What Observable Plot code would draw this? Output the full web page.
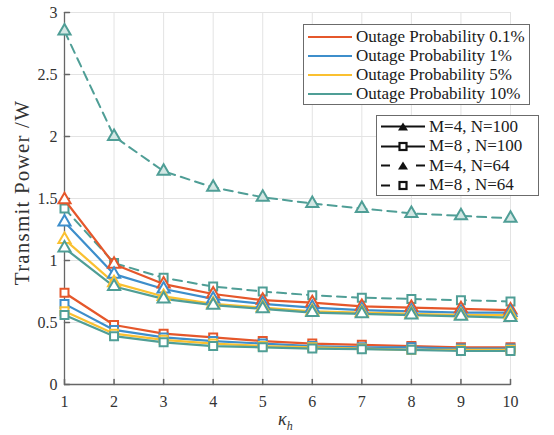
<!DOCTYPE html>
<html><head><meta charset="utf-8">
<script src="https://cdn.jsdelivr.net/npm/d3@7"></script>
<script src="https://cdn.jsdelivr.net/npm/@observablehq/plot@0.6"></script>
<style>
body{margin:0;background:#fff;}
#wrap{position:relative;width:554px;height:435px;font-family:"Liberation Serif","DejaVu Serif","Times New Roman",serif;overflow:hidden}
#wrap svg.plot{position:absolute;left:0;top:0}
.legend{position:absolute;background:#fff;border:1px solid #6b6b6b;box-sizing:border-box;}
.row{position:absolute;height:19px;display:flex;align-items:center;font-size:17px;color:#1a1a1a;white-space:nowrap;font-family:"Liberation Serif",serif}
.row svg{margin-right:3px}
#xlabel{position:absolute;left:278px;top:409px;font-size:18px;font-style:italic;color:#333;font-family:"Liberation Serif",serif}
#xlabel sub{font-size:12px}
</style></head><body><div id="wrap"></div>
<script>
const kappa = [1, 2, 3, 4, 5, 6, 7, 8, 9, 10];
const probLabels = ["Outage Probability 0.1%", "Outage Probability 1%", "Outage Probability 5%", "Outage Probability 10%"];
const colors = ["#e5572b", "#3d8ecb", "#fac030", "#4f9e96"];
const configLabels = ["M=4, N=100", "M=8 , N=100", "M=4, N=64", "M=8 , N=64"];
// M=4, N=100 (solid, triangle), one array per outage probability
const m4n100 = [
  [1.49, 0.97, 0.81, 0.73, 0.68, 0.66, 0.63, 0.62, 0.61, 0.60],
  [1.31, 0.89, 0.77, 0.69, 0.65, 0.62, 0.60, 0.59, 0.58, 0.58],
  [1.17, 0.82, 0.71, 0.65, 0.62, 0.59, 0.58, 0.57, 0.56, 0.56],
  [1.10, 0.79, 0.69, 0.64, 0.61, 0.58, 0.57, 0.56, 0.55, 0.54]
];
// M=8, N=100 (solid, square)
const m8n100 = [
  [0.74, 0.48, 0.41, 0.38, 0.35, 0.33, 0.32, 0.31, 0.30, 0.30],
  [0.65, 0.44, 0.38, 0.35, 0.33, 0.31, 0.30, 0.30, 0.29, 0.29],
  [0.59, 0.41, 0.36, 0.33, 0.31, 0.30, 0.29, 0.28, 0.28, 0.28],
  [0.56, 0.39, 0.34, 0.31, 0.30, 0.29, 0.285, 0.28, 0.27, 0.27]
];
// M=4, N=64 (dashed, triangle) - visible series
const m4n64 = [2.85, 2.00, 1.72, 1.59, 1.51, 1.46, 1.42, 1.38, 1.36, 1.34];
// M=8, N=64 (dashed, square)
const m8n64 = [1.42, 0.98, 0.86, 0.79, 0.75, 0.72, 0.70, 0.69, 0.68, 0.67];
const yTicks = [0, 0.5, 1, 1.5, 2, 2.5, 3];
const yTickLabels = ["0", "0.5", "1", "1.5", "2", "2.5", "3"];
const xTicks = kappa;

const rows = [];
probLabels.forEach((p, i) => {
  kappa.forEach((k, j) => {
    rows.push({k, v: m4n100[i][j], prob: p, cfg: configLabels[0], sym: "triangle"});
    rows.push({k, v: m8n100[i][j], prob: p, cfg: configLabels[1], sym: "square"});
  });
});
const dashRows = [];
kappa.forEach((k, j) => {
  dashRows.push({k, v: m4n64[j], prob: probLabels[3], cfg: configLabels[2], sym: "triangle"});
  dashRows.push({k, v: m8n64[j], prob: probLabels[3], cfg: configLabels[3], sym: "square"});
});

const tickShapeUp = {draw(c, l) { c.moveTo(0, 0); c.lineTo(0, -l); }};
const FF = "'Liberation Serif', 'DejaVu Serif', 'Times New Roman', serif";

const chart = Plot.plot({
  width: 554, height: 435,
  marginLeft: 64, marginRight: 44, marginTop: 12, marginBottom: 51,
  style: {fontFamily: FF, fontSize: "16px", color: "#333", background: "transparent"},
  x: {domain: [1, 10]},
  y: {domain: [0, 3]},
  color: {domain: probLabels, range: colors},
  symbol: {domain: ["triangle", "square"], range: ["triangle", "square"]},
  marks: [
    Plot.gridX(xTicks, {stroke: "#e3e3e3", strokeOpacity: 1}),
    Plot.gridY(yTicks, {stroke: "#e3e3e3", strokeOpacity: 1}),
    Plot.ruleX([1], {stroke: "#666", strokeWidth: 1.3}),
    Plot.ruleY([0], {stroke: "#666", strokeWidth: 1.3}),
    Plot.vector(xTicks, {x: d => d, y: () => 0, length: 5, rotate: 0, anchor: "start", shape: tickShapeUp, stroke: "#666"}),
    Plot.vector(yTicks, {x: () => 1, y: d => d, length: 5, rotate: 90, anchor: "start", shape: tickShapeUp, stroke: "#666"}),
    Plot.axisX(xTicks, {tickSize: 0, tickPadding: 11, label: null, fill: "#333", fontFamily: FF, fontSize: 16}),
    Plot.axisY(yTicks, {tickSize: 0, tickPadding: 7, tickFormat: (d) => yTickLabels[yTicks.indexOf(d)], label: null, fill: "#333", fontFamily: FF, fontSize: 16}),
    Plot.text(["Transmit Power /W"], {frameAnchor: "left", textAnchor: "middle", dx: -42, dy: -6, rotate: -90, fontSize: 21, fill: "#333", fontFamily: FF}),
    Plot.line(dashRows, {x: "k", y: "v", z: "cfg", stroke: "prob", strokeWidth: 2, strokeDasharray: "9,6"}),
    Plot.dot(dashRows, {x: "k", y: "v", symbol: "sym", stroke: "prob", r: 4.5, strokeWidth: 2, fill: d => d.sym === "square" ? "white" : "#d3e7e4"}),
    Plot.line(rows, {x: "k", y: "v", z: d => d.prob + d.cfg, stroke: "prob", strokeWidth: 2.2}),
    Plot.dot(rows, {x: "k", y: "v", symbol: "sym", stroke: "prob", r: 4.5, strokeWidth: 2, fill: "white"})
  ]
});
chart.classList.add("plot");
chart.querySelectorAll("text").forEach(t => { t.style.fontFamily = FF; });
chart.querySelectorAll("text").forEach(t => { if (t.textContent === "Transmit Power /W") t.style.letterSpacing = "1.2px"; });
const wrap = document.getElementById("wrap");
wrap.appendChild(chart);

// legend 1: outage probability colors
const lg1 = document.createElement("div");
lg1.className = "legend";
Object.assign(lg1.style, {left: "303px", top: "24px", width: "227px", height: "81px"});
probLabels.forEach((p, i) => {
  const r = document.createElement("div");
  r.className = "row";
  Object.assign(r.style, {left: "3px", top: (2 + i * 19) + "px"});
  r.innerHTML = `<svg width="46" height="10"><line x1="1" y1="5" x2="45" y2="5" stroke="${colors[i]}" stroke-width="2.2"/></svg><span>${p}</span>`;
  lg1.appendChild(r);
});
wrap.appendChild(lg1);

// legend 2: configurations
const lg2 = document.createElement("div");
lg2.className = "legend";
Object.assign(lg2.style, {left: "376px", top: "115px", width: "163px", height: "81px"});
configLabels.forEach((c, i) => {
  const dashed = i >= 2;
  const tri = i % 2 === 0;
  const marker = tri
    ? `<path d="M23,1.5 L28,9.5 L18,9.5 Z" fill="#111"/>`
    : `<rect x="19.5" y="2" width="7" height="7" fill="#fff" stroke="#111" stroke-width="2.2"/>`;
  const line = dashed
    ? `<line x1="1" y1="5.5" x2="10" y2="5.5" stroke="#111" stroke-width="2"/><line x1="36" y1="5.5" x2="45" y2="5.5" stroke="#111" stroke-width="2"/>`
    : `<line x1="1" y1="5.5" x2="45" y2="5.5" stroke="#111" stroke-width="2"/>`;
  const r = document.createElement("div");
  r.className = "row";
  Object.assign(r.style, {left: "3px", top: (1 + i * 19.5) + "px"});
  r.innerHTML = `<svg width="46" height="11">${line}${marker}</svg><span>${c}</span>`;
  lg2.appendChild(r);
});
wrap.appendChild(lg2);

const xl = document.createElement("div");
xl.id = "xlabel";
xl.innerHTML = "κ<sub>h</sub>";
wrap.appendChild(xl);
</script>
</body></html>
